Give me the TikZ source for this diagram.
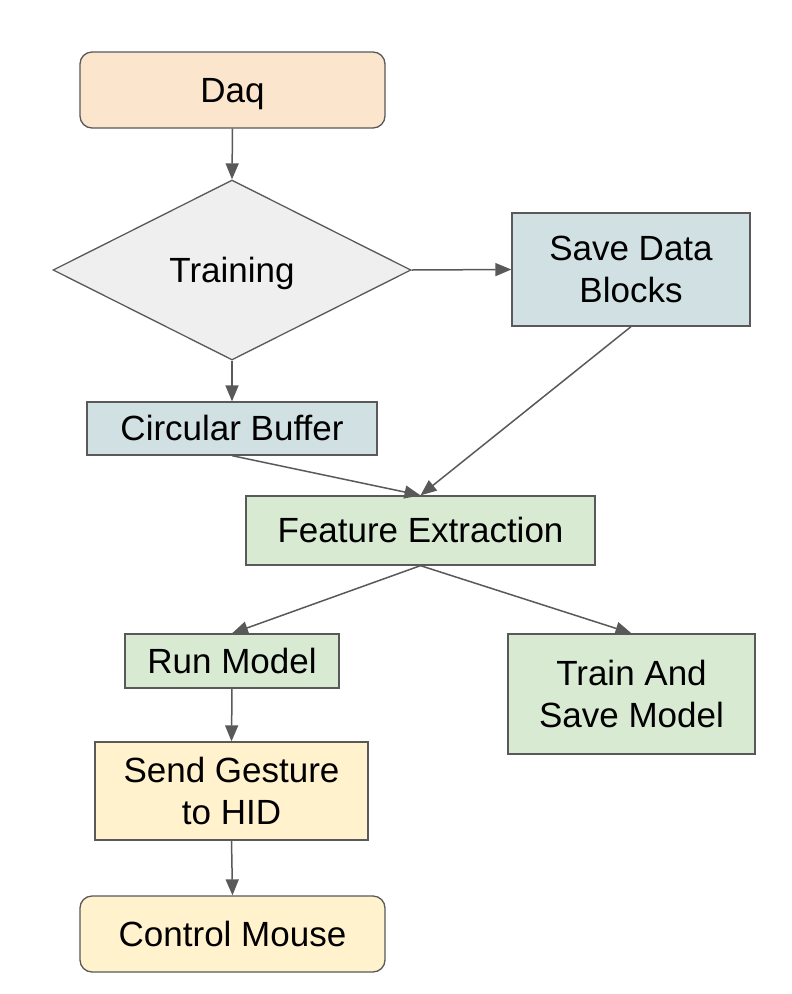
\documentclass[tikz,border=0pt]{standalone}
\usepackage{fontspec}
\setmainfont{Liberation Sans}
\usetikzlibrary{arrows.meta,shapes.geometric}
\definecolor{edge}{HTML}{595959}
\definecolor{peach}{HTML}{FCE5CD}
\definecolor{greyfill}{HTML}{EFEFEF}
\definecolor{bluefill}{HTML}{D0E0E3}
\definecolor{greenfill}{HTML}{D9EAD3}
\definecolor{yellowfill}{HTML}{FFF2CC}
\newcommand\linestrut{\rule[-0.212em]{0pt}{1.117em}}
\newcommand\topstrut{\rule{0pt}{0.89em}}
\begin{document}
\begin{tikzpicture}[x=1pt,y=-1pt,
  box/.style={draw=edge, line width=1.3pt, inner sep=0pt, align=center,
    font=\fontsize{35}{42}\selectfont},
  oneline/.style={box, execute at begin node=\linestrut, execute at end node=\linestrut},
  twoline/.style={box, execute at begin node=\topstrut},
  arr/.style={draw=edge, line width=1.5pt, -{Triangle[length=16pt,width=13pt]}}]
\useasboundingbox[fill=white] (0,0) rectangle (792,994);
\node[oneline, fill=peach, rounded corners=12pt, minimum width=305pt, minimum height=76pt] (daq) at (232.5,90) {Daq};
\node[oneline, diamond, aspect=2, fill=greyfill, minimum width=358pt, minimum height=180pt] (train) at (232,270) {Training};
\node[twoline, fill=bluefill, minimum width=238pt, minimum height=113pt] (sdb) at (631,269.5) {Save Data\\Blocks};
\node[oneline, fill=bluefill, minimum width=290pt, minimum height=53pt] (cb) at (232,428.5) {Circular Buffer};
\node[oneline, fill=greenfill, minimum width=349pt, minimum height=69pt] (fe) at (420.5,530.5) {Feature Extraction};
\node[oneline, fill=greenfill, minimum width=214pt, minimum height=54pt] (rm) at (232,661) {Run Model};
\node[twoline, fill=greenfill, minimum width=247pt, minimum height=120pt] (tsm) at (631.5,694) {Train And\\Save Model};
\node[twoline, fill=yellowfill, minimum width=273pt, minimum height=98pt] (sg) at (231.5,791) {Send Gesture\\to HID};
\node[oneline, fill=yellowfill, rounded corners=12pt, minimum width=305pt, minimum height=76pt] (cm) at (232.5,934) {Control Mouse};
\draw[arr] (daq.south) -- (train.north);
\draw[arr] (train.east) -- (sdb.west);
\draw[arr] (train.south) -- (cb.north);
\draw[arr] (cb.south) -- (fe.north);
\draw[arr] (sdb.south) -- (fe.north);
\draw[arr] (fe.south) -- (rm.north);
\draw[arr] (fe.south) -- (tsm.north);
\draw[arr] (rm.south) -- (sg.north);
\draw[arr] (sg.south) -- (cm.north);
\end{tikzpicture}
\end{document}
